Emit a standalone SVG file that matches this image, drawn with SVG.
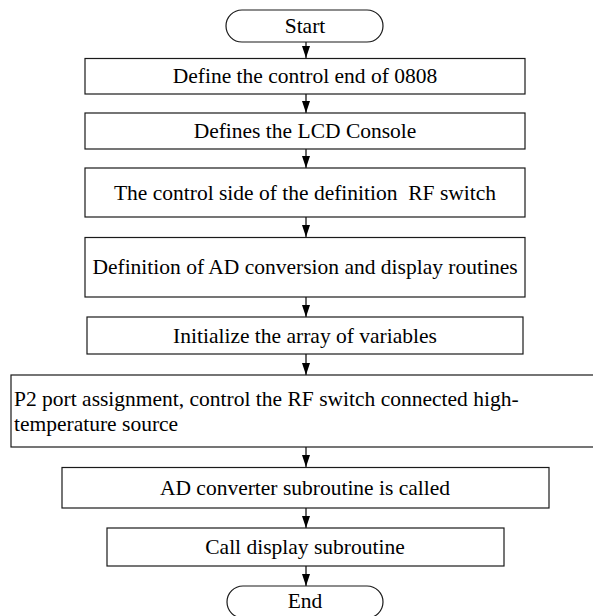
<svg xmlns="http://www.w3.org/2000/svg" width="593" height="616" viewBox="0 0 593 616">
<defs>
<style>
.b{fill:#fff;stroke:#1a1a1a;stroke-width:1.2}
.c{text-anchor:middle}
.l{stroke:#000;stroke-width:1.2;fill:none}
</style>
<marker id="ah" markerWidth="12" markerHeight="8" refX="12" refY="4" orient="auto" markerUnits="userSpaceOnUse" viewBox="0 0 12 8">
<path d="M0,0 L12,4 L0,8 Z" fill="#000"/>
</marker>
</defs>
<rect width="593" height="616" fill="#fff"/>
<g id="connectors">
<line class="l" x1="306" y1="42" x2="306" y2="58" marker-end="url(#ah)"/>
<line class="l" x1="306" y1="94" x2="306" y2="113" marker-end="url(#ah)"/>
<line class="l" x1="306" y1="149" x2="306" y2="168" marker-end="url(#ah)"/>
<line class="l" x1="306" y1="217" x2="306" y2="237" marker-end="url(#ah)"/>
<line class="l" x1="306" y1="297" x2="306" y2="317" marker-end="url(#ah)"/>
<line class="l" x1="306" y1="354" x2="306" y2="375" marker-end="url(#ah)"/>
<line class="l" x1="306" y1="447" x2="306" y2="467" marker-end="url(#ah)"/>
<line class="l" x1="306" y1="508" x2="306" y2="528" marker-end="url(#ah)"/>
<line class="l" x1="306" y1="566" x2="306" y2="586" marker-end="url(#ah)"/>
</g>
<g font-family="'Liberation Serif', 'Times New Roman', serif" font-size="21.5" fill="#000">
<g id="start">
<rect class="b" x="226" y="10" width="157" height="32" rx="16" ry="16"/>
<text class="c" x="305" y="33">Start</text>
</g>
<g id="n1">
<rect class="b" x="85" y="58.5" width="440" height="35.5"/>
<text class="c" x="305" y="83">Define the control end of 0808</text>
</g>
<g id="n2">
<rect class="b" x="85" y="113" width="440" height="36"/>
<text class="c" x="305" y="137.5">Defines the LCD Console</text>
</g>
<g id="n3">
<rect class="b" x="85" y="168" width="440" height="49"/>
<text class="c" x="305" y="199.5">The control side of the definition&#160; RF switch</text>
</g>
<g id="n4">
<rect class="b" x="85" y="237.5" width="440" height="59.5"/>
<text class="c" x="305" y="273.5">Definition of AD conversion and display routines</text>
</g>
<g id="n5">
<rect class="b" x="87" y="317" width="436" height="37"/>
<text class="c" x="305" y="343">Initialize the array of variables</text>
</g>
<g id="n6">
<rect class="b" x="11" y="375" width="590" height="72"/>
<text x="14" y="405.5">P2 port assignment, control the RF switch connected high-</text>
<text x="14" y="430.5">temperature source</text>
</g>
<g id="n7">
<rect class="b" x="62" y="467.5" width="487" height="40.5"/>
<text class="c" x="305" y="494.5">AD converter subroutine is called</text>
</g>
<g id="n8">
<rect class="b" x="107" y="528" width="397" height="38"/>
<text class="c" x="305" y="554">Call display subroutine</text>
</g>
<g id="end">
<rect class="b" x="227" y="586" width="156" height="32" rx="16" ry="16"/>
<text class="c" x="305" y="608">End</text>
</g>
</g>
</svg>
